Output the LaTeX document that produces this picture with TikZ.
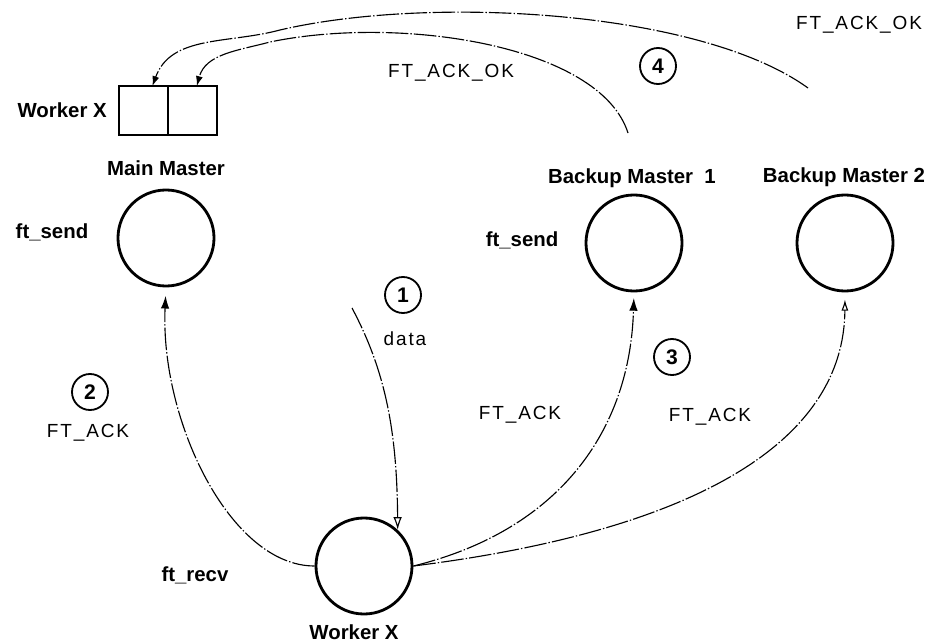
\documentclass[tikz,border=0pt]{standalone}
\usepackage{fontspec}
\setmainfont{Liberation Sans}
\newfontfamily\thinfont[LetterSpace=10]{Liberation Sans}
\usetikzlibrary{positioning, arrows.meta}

\tikzset{
    proc/.style={circle, draw, line width=2pt, minimum size=2.4cm, inner sep=0pt},
    cell/.style={rectangle, draw, line width=1.4pt, minimum width=1.225cm,
        minimum height=1.225cm, inner sep=0pt, outer sep=0pt},
    stepnum/.style={circle, draw, line width=1.3pt, minimum size=0.9cm, inner sep=0pt,
        font=\fontsize{15}{15}\selectfont\bfseries},
    title/.style={font=\fontsize{14.5}{16}\selectfont\bfseries, inner sep=0pt},
    msg/.style={font=\fontsize{13.5}{15}\selectfont\thinfont, inner sep=0pt},
    flow/.style={line width=0.8pt, dash pattern=on 16pt off 1.5pt on 1pt off 1.5pt},
}

\begin{document}
\begin{tikzpicture}[x=0.025cm, y=-0.025cm]
    \useasboundingbox (0,0) rectangle (933,643);

    % processes
    \node[proc] (mm) at (166,238) {};
    \node[proc] (bm1) at (634,243) {};
    \node[proc] (bm2) at (845,243) {};
    \node[proc] (wx) at (364,566) {};

    \node[title] (mmlbl) at (166,168) {Main Master};
    \node[title] (bm1lbl) at (632,178) {Backup Master\ \ 1};
    \node[title] (bm2lbl) at (844,177) {Backup Master 2};
    \node[title] (wxlbl) at (354,632) {Worker X};
    \node[title] (mmsend) at (52,232) {ft\_send};
    \node[title] (bm1send) at (522,240) {ft\_send};
    \node[title] (wxrecv) at (195,575) {ft\_recv};

    % register of worker X
    \node[cell] (slota) at (143.5,110.5) {};
    \node[cell, right=0pt of slota] (slotb) {};
    \node[title, left=0.3cm of slota] (reglbl) {Worker X};

    % steps
    \node[stepnum] (s1) at (403,295) {1};
    \node[stepnum] (s2) at (90,392) {2};
    \node[stepnum] (s3) at (672,357) {3};
    \node[stepnum] (s4) at (658,66) {4};

    \node[msg] (mdata) at (405,339) {data};
    \node[msg] (mack1) at (88,433) {FT\_ACK};
    \node[msg] (mack2) at (520,415) {FT\_ACK};
    \node[msg] (mack3) at (710,417) {FT\_ACK};
    \node[msg] (mok1) at (451,73) {FT\_ACK\_OK};
    \node[msg] (mok2) at (859,25) {FT\_ACK\_OK};

    % messages
    \coordinate (datasrc) at (352,308);
    \coordinate (ok1src) at (628,133);
    \coordinate (ok2src) at (808,88);

    \draw[flow, -{Latex[open, length=9pt, width=6pt]}]
        (datasrc) .. controls (385,370) and (397,430) .. (wx.47);
    \draw[flow, -{Latex[length=9pt, width=6pt]}, shorten >=6pt]
        (wx.west) .. controls (230,566) and (160,420) .. (mm.south);
    \draw[flow, -{Latex[length=9pt, width=6pt]}, shorten >=4pt]
        (wx.east) .. controls (560,530) and (630,430) .. (bm1.south);
    \draw[flow, -{Latex[open, length=8pt, width=5pt]}, shorten >=5pt]
        (wx.east) .. controls (700,530) and (844,440) .. (bm2.south);
    \draw[flow, -{Latex[length=7pt, width=5pt]}]
        (ok1src) .. controls (600,45) and (400,15) .. (270,42)
        to[out=195, in=75] (slotb.80);
    \draw[flow, -{Latex[length=7pt, width=5pt]}]
        (ok2src) .. controls (700,10) and (430,-5) .. (280,30)
        to[out=195, in=70] (slota.70);
\end{tikzpicture}
\end{document}
